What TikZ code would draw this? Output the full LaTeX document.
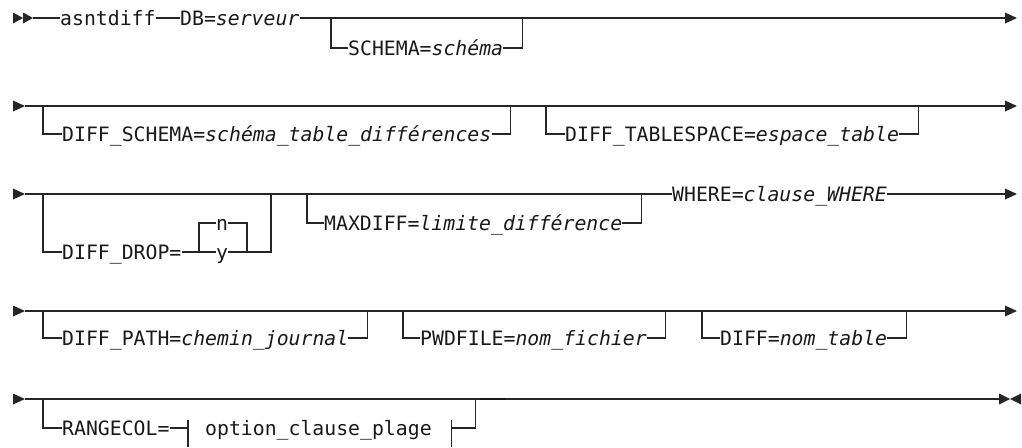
\documentclass[tikz,border=0pt]{standalone}
\usepackage{fontspec}
\newfontfamily\rrfont{DejaVu Sans Mono}
\usetikzlibrary{calc}
\begin{document}
\begin{tikzpicture}[x=1pt,y=1pt,
  rail/.style={line width=1.1pt, draw=black!85},
  tok/.style={inner xsep=0pt, inner ysep=0pt, text height=16pt, text depth=2pt, anchor=west,
    font=\rrfont\fontsize{19.8}{22}\selectfont, text=black!90},
  tip/.style={fill=black!85, draw=none},
  fbar/.style={line width=1.1pt, draw=black!85}
]
\useasboundingbox (0,0) rectangle (1022,-447);

% ---------- Row 1 ----------
\fill[tip] (13,-12.5) -- (23,-18) -- (13,-23.5) -- cycle;
\fill[tip] (23,-12.5) -- (33,-18) -- (23,-23.5) -- cycle;
\coordinate (r1s) at (33,-18);
\coordinate (r1e) at (1005,-18);
\fill[tip] (1005,-12.5) -- (1017,-18) -- (1005,-23.5) -- cycle;
\node[tok] (asn) at (60,-18) {asntdiff};
\node[tok] (db) at (180,-18) {DB=\textit{serveur}};
\draw[rail] (r1s) -- (asn.west);
\draw[rail] (asn.east) -- (db.west);
\draw[rail] (db.east) -- (r1e);
\coordinate (s1a) at (331,-18);
\node[tok] (schema) at (348,-48) {SCHEMA=\textit{schéma}};
\coordinate (s1b) at ($(schema.east)+(19,0)$);
\draw[rail] (s1a) |- (schema.west);
\draw[rail] (schema.east) -| (s1b |- r1s);

% ---------- Row 2 ----------
\fill[tip] (13,-100.5) -- (25,-106) -- (13,-111.5) -- cycle;
\coordinate (r2s) at (25,-106);
\coordinate (r2e) at (1005,-106);
\fill[tip] (1005,-100.5) -- (1017,-106) -- (1005,-111.5) -- cycle;
\draw[rail] (r2s) -- (r2e);
\coordinate (s2a) at (43,-106);
\node[tok] (dschema) at (62,-134) {DIFF\_SCHEMA=\textit{schéma\_table\_différences}};
\coordinate (s2b) at ($(dschema.east)+(19,0)$);
\draw[rail] (s2a) |- (dschema.west);
\draw[rail] (dschema.east) -| (s2b |- r2s);
\coordinate (s2c) at (546,-106);
\node[tok] (dts) at (565,-134) {DIFF\_TABLESPACE=\textit{espace\_table}};
\coordinate (s2d) at ($(dts.east)+(19,0)$);
\draw[rail] (s2c) |- (dts.west);
\draw[rail] (dts.east) -| (s2d |- r2s);

% ---------- Row 3 ----------
\fill[tip] (13,-188.5) -- (25,-194) -- (13,-199.5) -- cycle;
\coordinate (r3s) at (25,-194);
\coordinate (r3e) at (1005,-194);
\fill[tip] (1005,-188.5) -- (1017,-194) -- (1005,-199.5) -- cycle;
\node[tok] (where) at (672,-194) {WHERE=\textit{clause\_WHERE}};
\draw[rail] (r3s) -- (where.west);
\draw[rail] (where.east) -- (r3e);
\coordinate (s3a) at (43,-194);
\node[tok] (ddrop) at (62,-252) {DIFF\_DROP=};
\coordinate (split) at (199,-252);
\node[tok] (optn) at (216,-223) {n};
\node[tok] (opty) at (216,-252) {y};
\coordinate (join) at (247,-252);
\coordinate (s3b) at (271,-194);
\draw[rail] (s3a) |- (ddrop.west);
\draw[rail] (ddrop.east) -- (split) -- (opty.west);
\draw[rail] (split) |- (optn.west);
\draw[rail] (optn.east) -| (join);
\draw[rail] (opty.east) -- (join) -| (s3b);
\coordinate (s3c) at (307,-194);
\node[tok] (maxd) at (324,-223) {MAXDIFF=\textit{limite\_différence}};
\coordinate (s3d) at ($(maxd.east)+(19,0)$);
\draw[rail] (s3c) |- (maxd.west);
\draw[rail] (maxd.east) -| (s3d |- r3s);

% ---------- Row 4 ----------
\fill[tip] (13,-305.5) -- (25,-311) -- (13,-316.5) -- cycle;
\coordinate (r4s) at (25,-311);
\coordinate (r4e) at (1005,-311);
\fill[tip] (1005,-305.5) -- (1017,-311) -- (1005,-316.5) -- cycle;
\draw[rail] (r4s) -- (r4e);
\coordinate (s4a) at (43,-311);
\node[tok] (dpath) at (62,-338) {DIFF\_PATH=\textit{chemin\_journal}};
\coordinate (s4b) at ($(dpath.east)+(19,0)$);
\draw[rail] (s4a) |- (dpath.west);
\draw[rail] (dpath.east) -| (s4b |- r4s);
\coordinate (s4c) at (403,-311);
\node[tok] (pwd) at (420,-338) {PWDFILE=\textit{nom\_fichier}};
\coordinate (s4d) at ($(pwd.east)+(19,0)$);
\draw[rail] (s4c) |- (pwd.west);
\draw[rail] (pwd.east) -| (s4d |- r4s);
\coordinate (s4e) at (702,-311);
\node[tok] (dtab) at (720,-338) {DIFF=\textit{nom\_table}};
\coordinate (s4f) at ($(dtab.east)+(19,0)$);
\draw[rail] (s4e) |- (dtab.west);
\draw[rail] (dtab.east) -| (s4f |- r4s);

% ---------- Row 5 ----------
\fill[tip] (13,-393.5) -- (25,-399) -- (13,-404.5) -- cycle;
\coordinate (r5s) at (25,-399);
\coordinate (r5e) at (999,-399);
\fill[tip] (999,-393.5) -- (1010,-399) -- (999,-404.5) -- cycle;
\fill[tip] (1021,-393.5) -- (1010,-399) -- (1021,-404.5) -- cycle;
\draw[rail] (r5s) -- (r5e);
\draw[line width=2.2pt, draw=black!90] (480,-399) -- (505,-399);
\coordinate (s5a) at (43,-399);
\node[tok] (rcol) at (62,-428) {RANGECOL=};
\coordinate (bar1) at (188,-428);
\node[tok] (ocp) at (205,-428) {option\_clause\_plage};
\coordinate (bar2) at ($(ocp.east)+(20,0)$);
\coordinate (s5b) at ($(bar2)+(24,0)$);
\draw[rail] (s5a) |- (rcol.west);
\draw[rail] (rcol.east) -- (bar1);
\draw[fbar] ($(bar1)+(0,8)$) -- ($(bar1)+(0,-19)$);
\draw[fbar] ($(bar2)+(0,8)$) -- ($(bar2)+(0,-19)$);
\draw[rail] (bar2) -| (s5b |- r5s);
\end{tikzpicture}
\end{document}
